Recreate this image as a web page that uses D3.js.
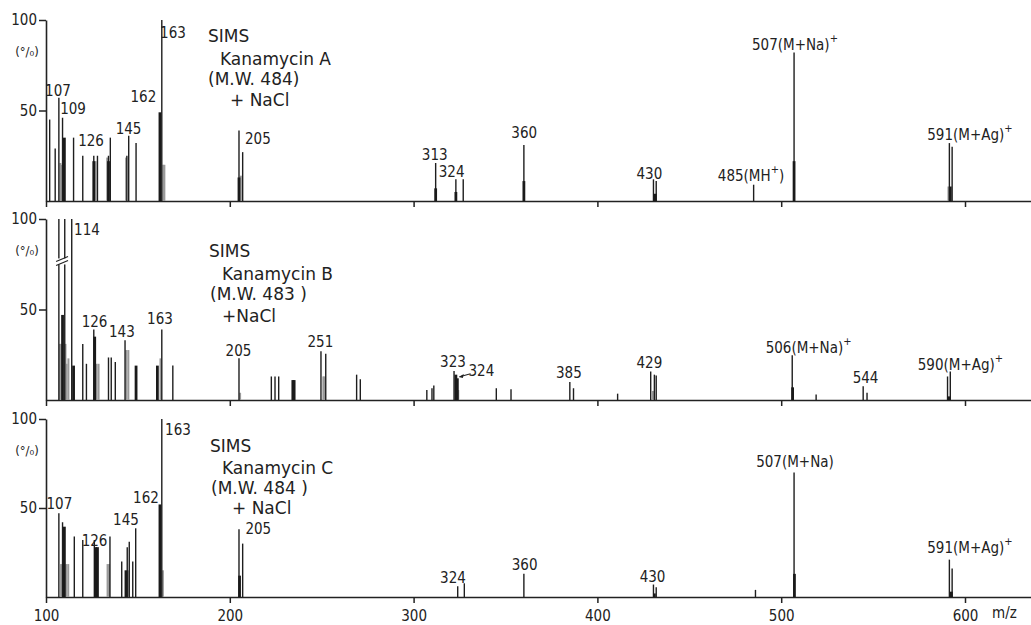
<!DOCTYPE html>
<html>
<head>
<meta charset="utf-8">
<script src="https://cdn.jsdelivr.net/npm/d3@7"></script>
<style>
  body { margin: 0; background: #fff; }
  text { font-family: "DejaVu Sans Condensed", "DejaVu Sans", sans-serif; fill: #222; }
</style>
</head>
<body>
<svg id="chart" width="1031" height="625"></svg>
<script>
// m/z axis and intensity ticks
var xTicks = [100, 200, 300, 400, 500, 600];
var yTicks = [50, 100];

// Kanamycin A : [m/z, intensity %]
var peaksA = [[102,45],[105,29],[107,57],[109,46],[115,35],[120,25],[126,25],[128,25],[134,25],[135,35],
  [144,25],[145,36],[149,32],[163,100],[205,39],[207,27],[312,21],[323,12],[327,12],[360,31],
  [430.5,12],[432,11],[485,9],[507,82],[591.5,32],[593,30]];
var boldA = [[110,35],[126,22],[134,22],[162,49],[205,13],[312,7],[323,5],[360,11],[431.5,4],[507,22],[592,8]];
var greyA = [[107.8,21],[108.6,20],[127,22],[133.3,24],[143.6,24],[163.8,20],[164.4,20],[206,14],[591,8]];
var labelsA = [["107",106.5,61],["109",114.7,51],["126",124.5,33],["145",144.9,40],["162",153,57.5],
  ["163",169.1,93],["205",215.3,34],["313",311.5,25.5],["324",320.7,16],["360",360.2,37.6],
  ["430",428.3,15],["485(MH^+)",483.6,14],["507(M+Na)^+",507.5,86],["591(M+Ag)^+",602.7,36.5]];
var titleA = ["SIMS", "Kanamycin A", "(M.W. 484)", "+ NaCl"];

// Kanamycin B
var peaksB = [[107,100],[110.2,100],[114,100],[120,31],[122,20],[126,39],[134,23.5],[135.5,23.5],[137.7,21],
  [143,33],[163,39],[169,19],[205,23],[222.6,13],[224.6,13],[226.6,13],[249.6,27],[252.2,25.5],[269,14],
  [271,11.5],[307.2,5.5],[310,6.5],[311,8],[322,16],[345,6.5],[353,6],[385,10],[387,6.5],[411,3.5],
  [429,15.7],[431,14],[432,13.6],[506,24.7],[519,3],[544.6,7.6],[546.7,4],[590.5,13],[592,15.7]];
var boldB = [[109,47],[115,19],[126.5,35],[149,19],[160.6,19],[234.3,11],[235,11],[323,14],[323.8,12],[506.2,7],[591.3,2]];
var greyB = [[107.6,31],[108.4,31],[110.6,31],[111.2,20],[112.2,23],[127.5,20],[128.6,20],[143.7,27.6],
  [144.8,27.6],[162.3,23],[205.6,4],[250.9,13],[251.4,13],[324.3,5.5],[430.2,5]];
var labelsB = [["114",122.3,94],["126",126.4,43],["143",141.3,37.6],["163",162,45],["205",204.7,27],
  ["251",249.3,32],["323",321.4,21],["324",336.9,16],["385",384.5,15],["429",428.3,20.4],
  ["506(M+Na)^+",514.9,28.7],["544",545.9,12.2],["590(M+Ag)^+",597.5,19.3]];
var titleB = ["SIMS", "Kanamycin B", "(M.W.  483 )", "+NaCl"];

// Kanamycin C
var peaksC = [[107,47],[109,42],[115.4,34],[120,32],[126.3,32],[134.8,34],[141.2,20],[144.2,28],[145.3,31],
  [147.2,20],[148.8,38.6],[163,100],[205,38],[207,30],[324,6],[327.6,7.7],[360,13],[430.5,7],[432,5.5],
  [486,4],[507,70],[591.5,21],[593,16]];
var boldC = [[110,39.5],[127,28],[128,28],[143.5,15],[162,52],[205.3,12],[431,2],[507.2,13],[592.6,3]];
var greyC = [[108.2,18.5],[109.4,18.5],[111,18.5],[112.1,18.5],[133.5,18.5],[134.3,18.5],[163.6,15],[144.6,15]];
var labelsC = [["107",107.3,52],["126",126.4,31.5],["145",143.5,43],["162",154.4,55.6],["163",171.8,94],
  ["205",215.5,38],["324",321.4,10.5],["360",360.4,18],["430",430,11.4],["507(M+Na)",507.5,76],
  ["591(M+Ag)^+",602.7,27.4]];
var titleC = ["SIMS", "Kanamycin C", "(M.W. 484 )", "+ NaCl"];

var panels = [
  { peaks: peaksA, bold: boldA, grey: greyA, labels: labelsA, title: titleA, top: 20, base: 201,
    tx: [208, 220, 208, 230], ty: [16, 39, 59, 80] },
  { peaks: peaksB, bold: boldB, grey: greyB, labels: labelsB, title: titleB, top: 219, base: 400,
    tx: [209, 222, 210, 222], ty: [32, 55, 75, 97] },
  { peaks: peaksC, bold: boldC, grey: greyC, labels: labelsC, title: titleC, top: 419, base: 597,
    tx: [210, 222, 211, 232], ty: [27, 49, 69, 89] }
];

var svg = d3.select("#chart");
var width = 1031;

var x = d3.scaleLinear().domain([100, 600]).range([46, 965]);
x.domain([100, x.invert(width)]).range([46, width]);

function addLabel(g, txt, px, py, size) {
  var t = g.append("text")
    .attr("x", px).attr("y", py)
    .attr("text-anchor", "middle")
    .attr("dominant-baseline", "central")
    .style("font-size", size + "px");
  var parts = txt.split(/\^(.)/);
  parts.forEach(function (p, i) {
    if (!p) return;
    var s = t.append("tspan").text(p);
    if (i % 2 == 1) s.attr("baseline-shift", "super").style("font-size", (size - 4) + "px");
  });
}

panels.forEach(function (p, idx) {
  var y = d3.scaleLinear().domain([0, 100]).range([p.base, p.top]);
  var g = svg.append("g");
  var last = idx == panels.length - 1;

  // baseline + m/z ticks
  var xAxis = d3.axisBottom(x).tickValues(xTicks).tickSize(6).tickSizeOuter(0)
    .tickFormat(last ? d3.format("d") : "");
  var xg = g.append("g")
    .attr("transform", "translate(0," + p.base + ")")
    .call(xAxis);
  xg.select(".domain").attr("stroke", "#222").attr("stroke-width", 1.6);
  xg.selectAll(".tick line").attr("stroke", "#222").attr("stroke-width", 1.5);
  xg.selectAll(".tick text").style("font-size", "15px").attr("fill", "#222").attr("dy", "1.0em");

  // intensity axis
  var yAxis = d3.axisLeft(y).tickValues(yTicks).tickSize(7).tickSizeOuter(0);
  var yg = g.append("g").attr("transform", "translate(46,0)").call(yAxis);
  yg.select(".domain").attr("stroke", "#222").attr("stroke-width", 1.6);
  yg.selectAll(".tick line").attr("stroke", "#222").attr("stroke-width", 1.5);
  yg.selectAll(".tick text").style("font-size", "15px").attr("fill", "#222").attr("x", -9);

  g.append("text")
    .attr("x", 27).attr("y", p.top + 31)
    .attr("text-anchor", "middle").attr("dominant-baseline", "central")
    .style("font-size", "13px")
    .text("(°/₀)");

  // peaks
  g.selectAll(".grey").data(p.grey).enter().append("line")
    .attr("x1", function (d) { return x(d[0]); }).attr("x2", function (d) { return x(d[0]); })
    .attr("y1", p.base).attr("y2", function (d) { return y(d[1]); })
    .attr("stroke", "#9a9a9a").attr("stroke-width", 2);
  g.selectAll(".peak").data(p.peaks).enter().append("line")
    .attr("x1", function (d) { return x(d[0]); }).attr("x2", function (d) { return x(d[0]); })
    .attr("y1", p.base).attr("y2", function (d) { return y(d[1]); })
    .attr("stroke", "#1e1e1e").attr("stroke-width", 1.4);
  g.selectAll(".bold").data(p.bold).enter().append("line")
    .attr("x1", function (d) { return x(d[0]); }).attr("x2", function (d) { return x(d[0]); })
    .attr("y1", p.base).attr("y2", function (d) { return y(d[1]); })
    .attr("stroke", "#1a1a1a").attr("stroke-width", 2.8);

  // peak labels
  p.labels.forEach(function (l) {
    addLabel(g, l[0], x(l[1]), y(l[2]), 15);
  });

  // sample title
  p.title.forEach(function (t, i) {
    g.append("text")
      .attr("x", p.tx[i]).attr("y", p.top + p.ty[i])
      .attr("dominant-baseline", "central")
      .style("font-family", "'DejaVu Sans', sans-serif")
      .style("font-size", "17px")
      .text(t);
  });

  if (idx == 1) {
    // broken-scale mark on the off-scale peaks
    var bx0 = x(105.5), bx1 = x(112), by = y(76);
    g.append("rect").attr("x", bx0).attr("y", by - 4).attr("width", bx1 - bx0).attr("height", 6).attr("fill", "#fff");
    [0, 4].forEach(function (o) {
      g.append("line")
        .attr("x1", bx0).attr("y1", by + 3 - o).attr("x2", bx1).attr("y2", by - 2 - o)
        .attr("stroke", "#222").attr("stroke-width", 1.2);
    });
    // arrow from "324" to its peak
    g.append("line")
      .attr("x1", x(331)).attr("y1", y(14.5)).attr("x2", x(325)).attr("y2", y(12.8))
      .attr("stroke", "#222").attr("stroke-width", 1.1);
    g.append("path")
      .attr("d", "M" + x(324.6) + "," + y(12.7) + " l5,-3 l-1,4 z")
      .attr("fill", "#222");
  }

  if (last) {
    g.append("text")
      .attr("x", 992).attr("y", p.base + 16)
      .attr("dominant-baseline", "central")
      .style("font-size", "15px")
      .text("m/z");
  }
});
</script>
</body>
</html>
